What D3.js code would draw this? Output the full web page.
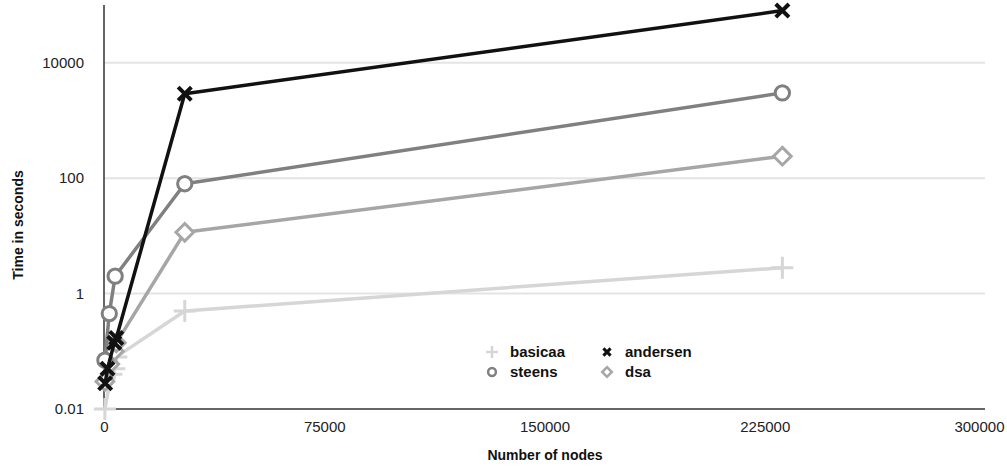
<!DOCTYPE html>
<html><head><meta charset="utf-8">
<script src="https://cdn.jsdelivr.net/npm/d3@7/dist/d3.min.js"></script>
<style>body{margin:0;background:#fff}svg{display:block;font-family:"Liberation Sans",Arial,sans-serif}</style>
</head><body><svg id="c" width="1007" height="467"></svg>
<script>
const seriesNames = ["basicaa","dsa","steens","andersen"];
const basicaaX = [300, 2500, 3500, 4200, 27500, 231000];
const basicaaY = [0.01, 0.04, 0.05, 0.08, 0.5, 2.8];
const dsaX = [300, 2000, 3500, 4200, 27500, 231000];
const dsaY = [0.03, 0.06, 0.1, 0.14, 11.5, 240];
const steensX = [300, 1800, 3800, 27500, 231000];
const steensY = [0.07, 0.45, 2.0, 80, 3000];
const andersenX = [400, 1200, 3500, 4200, 27500, 231000];
const andersenY = [0.028, 0.05, 0.14, 0.17, 2900, 80000];
const xTicks = [0, 75000, 150000, 225000, 300000];
const yTicks = [0.01, 1, 100, 10000];
const yTickLabels = ["0.01", "1", "100", "10000"];

const colors = {basicaa:"#d6d6d6", dsa:"#a6a6a6", steens:"#808080", andersen:"#111111"};
const data = {
  basicaa: basicaaX.map((x,i)=>({x, y: basicaaY[i]})),
  dsa: dsaX.map((x,i)=>({x, y: dsaY[i]})),
  steens: steensX.map((x,i)=>({x, y: steensY[i]})),
  andersen: andersenX.map((x,i)=>({x, y: andersenY[i]}))
};

const svg = d3.select("#c");
const x = d3.scaleLinear().domain([0, 300000]).range([104, 985]);
const y = d3.scaleLog().domain([0.01, 100000]).range([409, 5]);

// gridlines
svg.append("g").selectAll("line").data(yTicks.slice(1)).join("line")
  .attr("x1", x(0)).attr("x2", x(300000))
  .attr("y1", d=>y(d)).attr("y2", d=>y(d))
  .attr("stroke", "#e4e4e4").attr("stroke-width", 2);

// axes
const yAxis = d3.axisLeft(y).tickValues(yTicks).tickFormat((d,i)=>yTickLabels[i]).tickSize(0).tickPadding(20);
const gy = svg.append("g").attr("transform", `translate(${x(0)},0)`).call(yAxis);
gy.select(".domain").remove();
gy.selectAll("text").attr("font-size", 15).attr("fill", "#222").attr("font-family", "Liberation Sans, Arial, sans-serif");
const xAxis = d3.axisBottom(x).tickValues(xTicks).tickFormat(d3.format("d")).tickSize(0).tickPadding(12);
const gx = svg.append("g").attr("transform", `translate(0,${y(0.01)})`).call(xAxis);
gx.select(".domain").remove();
gx.selectAll("text").attr("font-size", 15).attr("fill", "#222").attr("font-family", "Liberation Sans, Arial, sans-serif");
gx.selectAll(".tick").filter(d => d === 300000).select("text")
  .attr("text-anchor", "end").attr("dx", 19);

svg.append("line").attr("x1", x(0)).attr("x2", x(0)).attr("y1", 5).attr("y2", y(0.01))
  .attr("stroke", "#333").attr("stroke-width", 1.5);
svg.append("line").attr("x1", x(0)).attr("x2", x(300000)).attr("y1", y(0.01)).attr("y2", y(0.01))
  .attr("stroke", "#333").attr("stroke-width", 1.5);

// titles
svg.append("text").attr("x", 545).attr("y", 460).attr("text-anchor", "middle")
  .attr("font-size", 14).attr("font-weight", "bold").attr("fill", "#111").text("Number of nodes");
svg.append("text").attr("transform", "translate(23,225) rotate(-90)").attr("text-anchor", "middle")
  .attr("font-size", 14).attr("font-weight", "bold").attr("fill", "#111").text("Time in seconds");

function marker(g, name, cx, cy, s) {
  const c = colors[name];
  if (name === "basicaa") {
    g.append("path").attr("d", `M${cx-s},${cy}H${cx+s}M${cx},${cy-s}V${cy+s}`)
      .attr("stroke", c).attr("stroke-width", s > 6 ? 3 : 2.5).attr("fill", "none");
  } else if (name === "steens") {
    g.append("circle").attr("cx", cx).attr("cy", cy).attr("r", s*0.65)
      .attr("fill", "#fff").attr("stroke", c).attr("stroke-width", s > 6 ? 3 : 2.5);
  } else if (name === "dsa") {
    const r = s*0.8;
    g.append("path").attr("d", `M${cx},${cy-r}L${cx+r},${cy}L${cx},${cy+r}L${cx-r},${cy}Z`)
      .attr("fill", "#fff").attr("stroke", c).attr("stroke-width", s > 6 ? 3 : 2.5);
  } else {
    const r = s*0.6;
    g.append("path").attr("d", `M${cx-r},${cy-r}L${cx+r},${cy+r}M${cx-r},${cy+r}L${cx+r},${cy-r}`)
      .attr("stroke", c).attr("stroke-width", s > 6 ? 4 : 3).attr("fill", "none");
  }
}

const line = d3.line().x(d=>x(d.x)).y(d=>y(d.y));
seriesNames.forEach(name => {
  const g = svg.append("g");
  g.append("path").datum(data[name]).attr("d", line).attr("fill", "none")
    .attr("stroke", colors[name]).attr("stroke-width", 3.5).attr("stroke-linejoin", "round");
  data[name].forEach(d => marker(g, name, x(d.x), y(d.y), 11));
});

// legend
const legendItems = [
  {name:"basicaa", lx:492, ly:352},
  {name:"andersen", lx:607, ly:352},
  {name:"steens", lx:492, ly:372},
  {name:"dsa", lx:607, ly:372}
];
const lg = svg.append("g");
legendItems.forEach(it => {
  marker(lg, it.name, it.lx, it.ly, 6);
  lg.append("text").attr("x", it.lx + 18).attr("y", it.ly + 5).attr("font-size", 15)
    .attr("font-weight", "bold").attr("fill", "#111").text(it.name);
});
</script></body></html>
